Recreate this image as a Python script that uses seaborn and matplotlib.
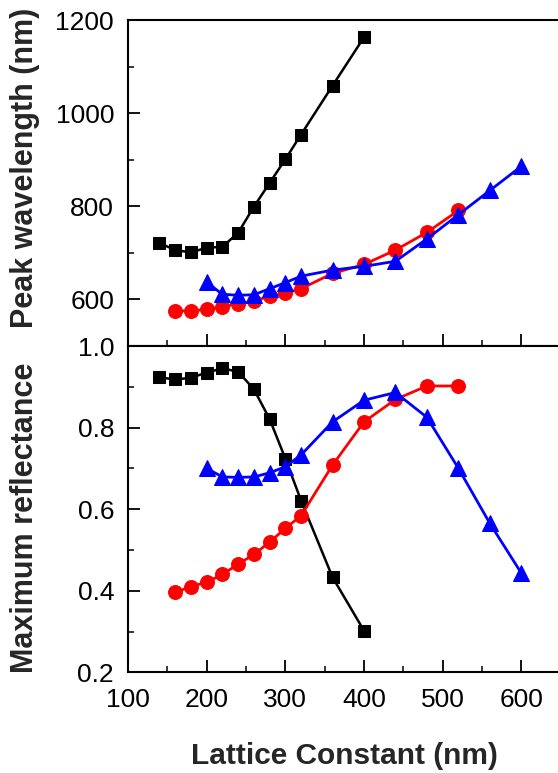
import matplotlib
matplotlib.use("Agg")
import matplotlib.pyplot as plt
import seaborn as sns
from matplotlib.ticker import MultipleLocator

sns.set_theme(style="ticks")
plt.rcParams['font.family'] = ['Liberation Sans', 'DejaVu Sans']

# Data
x_black = [140, 160, 180, 200, 220, 240, 260, 280, 300, 320, 360, 400]
x_red = [160, 180, 200, 220, 240, 260, 280, 300, 320, 360, 400, 440, 480, 520]
x_blue = [200, 220, 240, 260, 280, 300, 320, 360, 400, 440, 480, 520, 560, 600]

peak_black = [721, 706, 701, 711, 713, 743, 799, 850, 901, 954, 1059, 1163]
peak_red = [576, 575, 579, 584, 591, 596, 607, 613, 623, 656, 675, 706, 744, 791]
peak_blue = [637, 611, 609, 610, 623, 636, 650, 663, 671, 682, 730, 782, 834, 886]

refl_black = [0.923, 0.918, 0.922, 0.935, 0.945, 0.937, 0.894, 0.821, 0.724, 0.621, 0.433, 0.302]
refl_red = [0.396, 0.410, 0.421, 0.440, 0.465, 0.489, 0.519, 0.553, 0.584, 0.708, 0.814, 0.869, 0.902, 0.902]
refl_blue = [0.700, 0.679, 0.678, 0.679, 0.689, 0.704, 0.733, 0.814, 0.867, 0.886, 0.825, 0.700, 0.565, 0.443]

top_ticks = [600, 800, 1000, 1200]
bot_ticks = [0.2, 0.4, 0.6, 0.8, 1.0]
x_ticks = [100, 200, 300, 400, 500, 600]

W, H = 558, 773
fig = plt.figure(figsize=(W / 100, H / 100), dpi=100)
left = 128 / W
width = (550 * 0.7867) / W
ax1 = fig.add_axes([left, 1 - 346 / H, width, 326 / H])
ax2 = fig.add_axes([left, 1 - 672.3 / H, width, 326.3 / H])

series_style = [
    ("black", "s", 8, 1.8),
    ("#ff0000", "o", 10, 2.0),
    ("#0000ff", "^", 11, 2.0),
]

for ax, ys in [(ax1, (peak_black, peak_red, peak_blue)), (ax2, (refl_black, refl_red, refl_blue))]:
    for (c, m, ms, lw), xs, yv in zip(series_style, (x_black, x_red, x_blue), ys):
        sns.lineplot(x=xs, y=yv, ax=ax, color=c, marker=m, markersize=ms,
                     markeredgecolor=c, markerfacecolor=c, linewidth=lw,
                     errorbar=None, sort=False)
    ax.set_xlim(100, 650)
    ax.set_xticks(x_ticks)
    ax.xaxis.set_minor_locator(MultipleLocator(50))
    for s in ax.spines.values():
        s.set_linewidth(1.5)
        s.set_color("black")
    ax.spines['right'].set_visible(False)
    ax.tick_params(axis='both', which='major', direction='in', length=8.5, width=1.3,
                   labelsize=19, colors='black', pad=10)
    ax.tick_params(axis='both', which='minor', direction='in', length=4.3, width=1.3)
    ax.tick_params(axis='x', which='both', top=False, bottom=True)
    ax.tick_params(axis='x', which='major', pad=11)

ax1.set_ylim(500, 1200)
ax1.set_yticks(top_ticks)
ax1.yaxis.set_minor_locator(MultipleLocator(100))
ax1.tick_params(axis='x', which='both', labelbottom=False)

ax2.set_ylim(0.2, 1.0)
ax2.set_yticks(bot_ticks)
ax2.set_yticklabels([f"{v:.1f}" for v in bot_ticks])
ax2.yaxis.set_minor_locator(MultipleLocator(0.1))

ax1.set_ylabel("Peak wavelength (nm)", fontsize=22, fontweight='bold')
ax2.set_ylabel("Maximum reflectance", fontsize=22, fontweight='bold')
ax2.set_xlabel("Lattice Constant (nm)", fontsize=21.5, fontweight='bold')
ax1.yaxis.set_label_coords(-0.203, 0.547)
ax2.yaxis.set_label_coords(-0.203, 0.472)
ax2.xaxis.set_label_coords(0.5, -0.215)

fig.savefig("out.png", dpi=100)
